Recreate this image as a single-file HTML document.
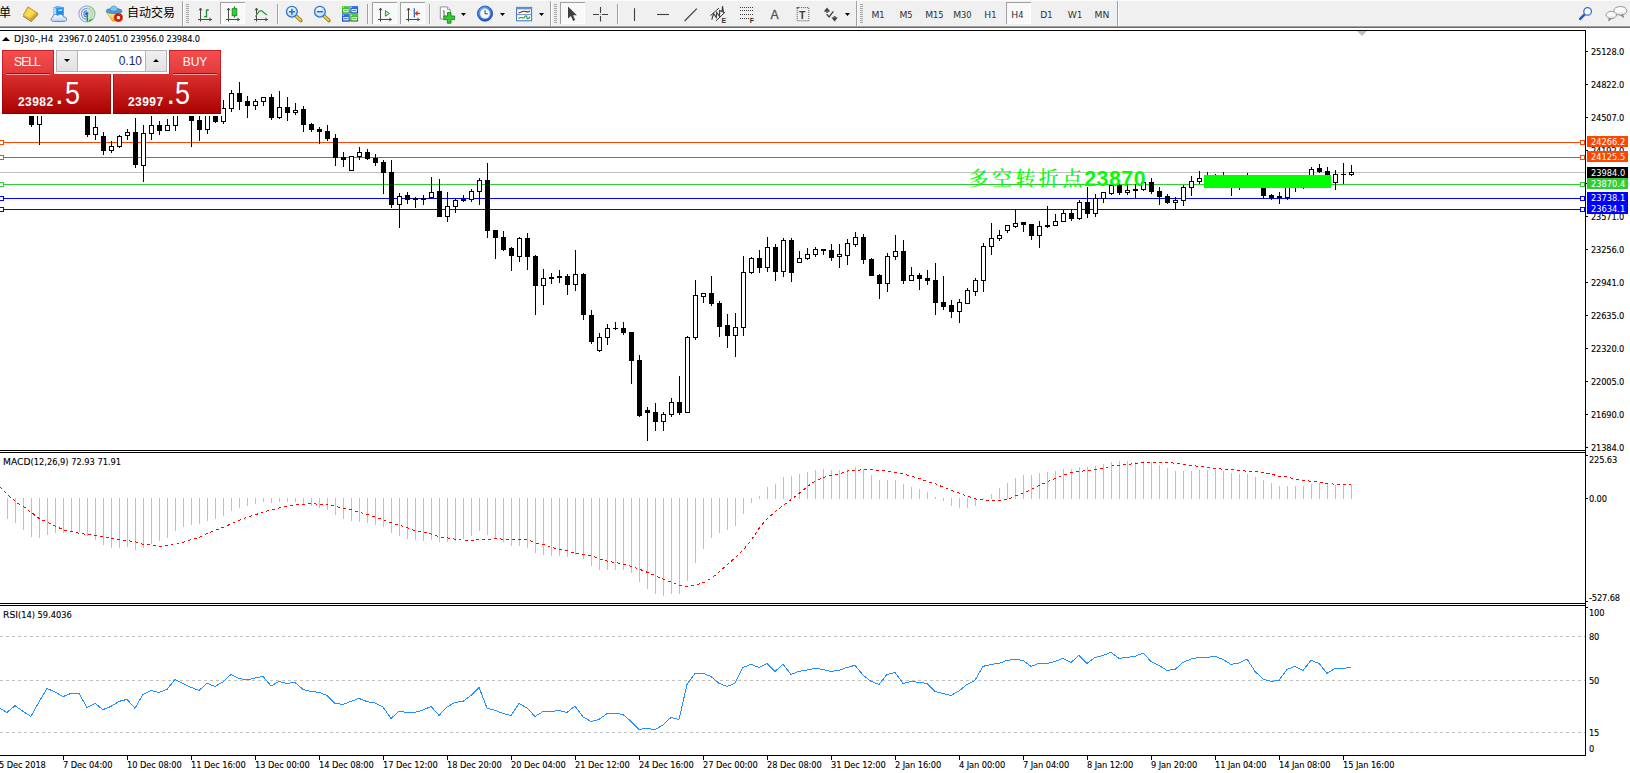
<!DOCTYPE html>
<html lang="zh"><head><meta charset="utf-8"><title>DJ30-,H4</title>
<style>
*{box-sizing:border-box;margin:0;padding:0}
html,body{width:1630px;height:773px;overflow:hidden;background:#fff}
body{font-family:"Liberation Sans","Noto Sans CJK SC",sans-serif}
.root{position:relative;width:1630px;height:773px;overflow:hidden;background:#fff}
.chart{position:absolute;left:0;top:0}
.tb{position:absolute;left:0;top:0;width:1630px;height:28px;background:#f0f0f0;border-bottom:1px solid #fff}
.tb:before{content:"";position:absolute;left:0;right:0;top:26px;height:1px;background:#a0a0a0}
.tb:after{content:"";position:absolute;left:0;right:0;top:27px;height:1px;background:#696969}
.ax{position:absolute;left:1591px;letter-spacing:-.15px;font-size:9.2px;font-family:"DejaVu Sans",sans-serif;font-stretch:condensed;line-height:12px;color:#000;white-space:nowrap}
.tag{position:absolute;left:1587px;width:41px;height:11px;overflow:hidden;font-size:9.2px;font-family:"DejaVu Sans",sans-serif;font-stretch:condensed;line-height:12px;color:#fff;padding-left:4px;white-space:nowrap}
.tm{position:absolute;top:759px;letter-spacing:-.08px;font-size:9.2px;font-family:"DejaVu Sans",sans-serif;font-stretch:condensed;line-height:12px;color:#000;white-space:nowrap}
.ct{position:absolute;font-size:9.2px;font-family:"DejaVu Sans",sans-serif;font-stretch:condensed;line-height:12px;color:#000;white-space:nowrap}
.tri{position:absolute;left:2px;top:37px;width:0;height:0;border-left:4px solid transparent;border-right:4px solid transparent;border-bottom:4px solid #000}
.gt{position:absolute;left:968.6px;top:165px;font-family:"Liberation Serif","Noto Serif CJK SC",serif;font-weight:500;font-size:20px;line-height:28px;color:#00ff00;white-space:nowrap;letter-spacing:3.4px}
.gt span{font-family:"Liberation Sans",sans-serif;font-weight:bold;letter-spacing:.5px;font-size:21.33px;margin-left:-1.4px}
.panel{position:absolute;left:0;top:0;width:230px;height:120px}
.pbg{position:absolute;left:0;top:48px;width:222px;height:68px;background:#fff}
.btn{position:absolute;top:50px;height:24px;width:52px;color:#fff;font-size:12px;line-height:24px;text-align:center;background:linear-gradient(#f55050,#e03a3a);box-shadow:inset 0 1px 0 rgba(170,0,0,.6),inset 1px 0 0 rgba(170,0,0,.5),inset -1px 0 0 rgba(170,0,0,.5)}
.sell{left:2px;letter-spacing:-.9px;padding-right:2px}.buy{left:169px}
.vol{position:absolute;left:56px;top:50px;width:111px;height:22px;border:1px solid #b4b4b4;background:#fff;display:flex}
.vb{width:21px;height:20px;background:linear-gradient(#efefef,#e2e2e2);position:relative}
.vb.l{border-right:1px solid #b4b4b4}.vb.rr{border-left:1px solid #b4b4b4}
.vb i{position:absolute;left:7px;top:8px;width:0;height:0;border-left:3px solid transparent;border-right:3px solid transparent}
.vb i.dn{border-top:3px solid #000}.vb i.up{border-bottom:3px solid #000}
.vi{flex:1;font-size:12px;line-height:20px;text-align:right;padding-right:3px;color:#1b2a5a}
.pb{position:absolute;top:74px;height:40px;width:109px;background:linear-gradient(#dc3030,#a80000);color:#fff;box-shadow:inset 0 -1px 0 rgba(120,0,0,.6),inset 1px 0 0 rgba(150,0,0,.5),inset -1px 0 0 rgba(150,0,0,.5)}
.pl{left:2px}.pr{left:113px;width:108px}.pr .sm{left:15px}.pr .dot{left:53.5px}.pr .bg{left:62px}
.pb span{position:absolute;white-space:nowrap}
.sm{left:16px;top:22px;font-size:12px;line-height:12px;font-weight:bold;letter-spacing:.45px}
.dot{left:53px;top:2px;font-size:31px;line-height:36px}
.bg{left:63px;top:2px;font-size:31px;line-height:36px;transform:scaleX(.87);transform-origin:0 0}
.ul{position:absolute;top:73px;height:2px;width:44px;background:linear-gradient(#a80c0c 50%,#f59a9a 50%)}
.tl{position:absolute;top:5px;font-size:12px;line-height:16px;color:#000;white-space:nowrap;font-family:"Liberation Sans","Noto Sans CJK SC",sans-serif}
.ax,.tm,.ct{-webkit-text-stroke:.1px #000}
.nw{font-stretch:normal}

</style></head><body>
<div class="root">
<div class="tb">
<svg width="1630" height="28" viewBox="0 0 1630 28" style="position:absolute;left:0;top:0">
<defs>
<linearGradient id="gold" x1="0" y1="0" x2="1" y2="1"><stop offset="0" stop-color="#e8b830"/><stop offset=".45" stop-color="#f6d648"/><stop offset="1" stop-color="#b87808"/></linearGradient>
<linearGradient id="srv" x1="0" y1="0" x2="1" y2="1"><stop offset="0" stop-color="#7fc4ff"/><stop offset="1" stop-color="#1d6fd6"/></linearGradient>
<linearGradient id="cld" x1="0" y1="0" x2="0" y2="1"><stop offset="0" stop-color="#ffffff"/><stop offset="1" stop-color="#b9d3f2"/></linearGradient>
<linearGradient id="hat" x1="0" y1="0" x2="0" y2="1"><stop offset="0" stop-color="#8fd0f5"/><stop offset="1" stop-color="#3a8fd0"/></linearGradient>
<linearGradient id="yel" x1="0" y1="0" x2="0" y2="1"><stop offset="0" stop-color="#fff2a0"/><stop offset="1" stop-color="#e8b020"/></linearGradient>
<radialGradient id="lens" cx=".4" cy=".35" r=".7"><stop offset="0" stop-color="#ffffff"/><stop offset="1" stop-color="#a9d4f5"/></radialGradient>
<linearGradient id="grn" x1="0" y1="0" x2="0" y2="1"><stop offset="0" stop-color="#5fd04a"/><stop offset="1" stop-color="#1d8a17"/></linearGradient>
<linearGradient id="blu" x1="0" y1="0" x2="0" y2="1"><stop offset="0" stop-color="#3d7df0"/><stop offset="1" stop-color="#0b3fb8"/></linearGradient>
<radialGradient id="clk" cx=".4" cy=".3" r=".8"><stop offset="0" stop-color="#6fb2ff"/><stop offset="1" stop-color="#0d4fc0"/></radialGradient>
<linearGradient id="bub" x1="0" y1="0" x2="0" y2="1"><stop offset="0" stop-color="#ffffff"/><stop offset=".6" stop-color="#f6f6fa"/><stop offset="1" stop-color="#d8d8e6"/></linearGradient>
<g id="dd"><polygon points="0,0 5,0 2.5,3" fill="#000"/></g>
<g id="axes" fill="none" stroke="#4a4a4a" stroke-width="1"><path d="M2.5,15.6V2.2M0,13.5H13.4"/><path d="M1,4.4L2.5,2L4,4.4M11.2,12L13.6,13.5L11.2,15" stroke-width=".9"/></g>
</defs>
<rect x="0" y="0" width="1630" height="1" fill="#fbfbfb"/>
<g><path d="M27.9,7Q25.6,11 22.8,16.2L31.3,22L38.4,14.6L37.9,13.4Z" fill="#96600a"/><path d="M27.9,6.8Q26,10.6 23.2,15L31.2,20.4L37.9,13.3Z" fill="url(#gold)" stroke="#b07a12" stroke-width=".6"/><path d="M28.6,8.4Q27,11.4 25.2,14.4L30.6,18L35.6,13Z" fill="#ffe860" opacity=".45"/><path d="M23.2,15.2L31.2,20.6L37.9,13.6" fill="none" stroke="#f3d77a" stroke-width=".7"/></g>
<g><path d="M53.4,7.4L57.2,6.2L63.8,7.2V15.4H53.4Z" fill="#1e8cf0"/><path d="M53.4,7.4L56.2,8.6V15.4H53.4Z" fill="#a6dcff"/><path d="M53.4,7.4L57.2,6.2L63.8,7.2L56.2,8.6Z" fill="#5cb8ff"/><rect x="58.4" y="9.6" width="3.8" height="1.2" fill="#e8f6ff" transform="rotate(-8 60 10)"/><path d="M53.6,21.4C50.6,21.4 50.2,18 52.8,17.2C52.6,14.6 56.4,13.6 57.8,15.6C59.2,13.4 63.2,14 63.4,16.8C67,16.4 67.8,21.4 64.4,21.4Z" fill="url(#cld)" stroke="#5878b8" stroke-width=".9"/></g>
<g fill="none"><path d="M86.9,13.9L86.9,5.9A8,8 0 0 1 86.9,21.9Z" fill="#cfe6cf" opacity=".8"/><path d="M86.9,5.9A8,8 0 0 0 86.9,21.9" stroke="#8fb0e8" stroke-width="1.1"/><path d="M86.9,8.4A5.5,5.5 0 0 0 86.9,19.4" stroke="#6f98e0" stroke-width="1.1"/><path d="M86.9,10.9A3,3 0 0 0 86.9,16.9" stroke="#4f80d8" stroke-width="1.1"/><path d="M86.9,5.9A8,8 0 0 1 86.9,21.9" stroke="#8fbf9a" stroke-width="1.2"/><path d="M86.9,8.4A5.5,5.5 0 0 1 86.9,19.4" stroke="#a8d0a8" stroke-width="1.1"/><path d="M86.9,10.9A3,3 0 0 1 86.9,16.9" stroke="#b8d8b8" stroke-width="1"/><circle cx="86.7" cy="13.7" r="1.7" fill="#2a5fd0"/><path d="M87.3,14.2V21.6" stroke="#18a018" stroke-width="1.4"/><path d="M87.4,21.6Q91,21.4 93.4,18.4L90,19.6Z" fill="#3aa83a"/></g>
<g><path d="M106.4,12.4L112.6,21Q113.6,22 114.8,21L121.8,12.4Z" fill="url(#yel)" stroke="#c8960c" stroke-width=".6"/><ellipse cx="114.1" cy="11" rx="8" ry="2.7" fill="#4a9cd6" stroke="#2a78b8" stroke-width=".6"/><path d="M110,10.6Q110,6 113.8,6Q117.4,6 117.6,10.6Q113.8,11.8 110,10.6Z" fill="#7cc4ee" stroke="#2a78b8" stroke-width=".5"/><circle cx="118.4" cy="17.6" r="4.1" fill="#e01808"/><circle cx="118.4" cy="17.6" r="4.1" fill="none" stroke="#b01000" stroke-width=".5"/><rect x="116.9" y="16.1" width="3" height="3" fill="#fff"/></g>
<rect x="182" y="1" width="1" height="25" fill="#a0a0a0"/><rect x="183" y="1" width="1" height="25" fill="#fff"/>
<g fill="#a6a6a6"><rect x="186" y="4" width="3" height="1"/><rect x="186" y="6" width="3" height="1"/><rect x="186" y="8" width="3" height="1"/><rect x="186" y="10" width="3" height="1"/><rect x="186" y="12" width="3" height="1"/><rect x="186" y="14" width="3" height="1"/><rect x="186" y="16" width="3" height="1"/><rect x="186" y="18" width="3" height="1"/><rect x="186" y="20" width="3" height="1"/><rect x="186" y="22" width="3" height="1"/></g>
<use href="#axes" x="198" y="6"/>
<path d="M206.5,9.5V17.5M206.5,10H208.8M204.2,16.6H206.5" stroke="#1f8f2f" stroke-width="1.3" fill="none"/>
<rect x="220" y="2" width="25" height="22" fill="#f9f9f9"/><rect x="220" y="2" width="25" height="1" fill="#a0a0a0"/><rect x="220" y="2" width="1" height="22" fill="#a0a0a0"/><rect x="244" y="3" width="1" height="21" fill="#fff"/><rect x="221" y="23" width="24" height="1" fill="#fff"/>
<use href="#axes" x="226" y="6"/>
<path d="M234.5,6.4V17.6" stroke="#1f7a1f" stroke-width="1.2"/><rect x="232.2" y="8.7" width="4.6" height="7" fill="#2fd23a" stroke="#1a8a1a" stroke-width=".9"/>
<use href="#axes" x="254" y="6"/>
<path d="M255.5,16.8Q259.5,9 262,11Q264.5,13.5 267,15" stroke="#2f9a3f" stroke-width="1.2" fill="none"/>
<rect x="277" y="4" width="1" height="20" fill="#a0a0a0"/><rect x="278" y="4" width="1" height="20" fill="#fafafa"/>
<g><path d="M296.09999999999997,16L300.9,20.6" stroke="#8a6a10" stroke-width="3.4" stroke-linecap="round"/><path d="M296.09999999999997,16L300.7,20.4" stroke="#f0cf4a" stroke-width="2" stroke-linecap="round"/><circle cx="291.9" cy="11.7" r="5.4" fill="url(#lens)" stroke="#2a78c8" stroke-width="1.3"/>
<path d="M288.9,11.7H294.9M291.9,8.7V14.7" stroke="#2a6fc0" stroke-width="1.6"/>
</g>
<g><path d="M324.09999999999997,16L328.9,20.6" stroke="#8a6a10" stroke-width="3.4" stroke-linecap="round"/><path d="M324.09999999999997,16L328.7,20.4" stroke="#f0cf4a" stroke-width="2" stroke-linecap="round"/><circle cx="319.9" cy="11.7" r="5.4" fill="url(#lens)" stroke="#2a78c8" stroke-width="1.3"/>
<path d="M316.9,11.7H322.9" stroke="#2a6fc0" stroke-width="1.6"/>
</g>
<rect x="342" y="6" width="7.8" height="7.6" fill="url(#grn)"/><rect x="343.2" y="9" width="5.4" height="3.4" fill="#fff" opacity=".85"/><rect x="344" y="10.2" width="3.8" height=".8" fill="url(#grn)"/><rect x="342.8" y="6.8" width="1" height="1" fill="#fff" opacity=".8"/>
<rect x="350.3" y="6" width="7.8" height="7.6" fill="url(#blu)"/><rect x="351.5" y="9" width="5.4" height="3.4" fill="#fff" opacity=".85"/><rect x="352.3" y="10.2" width="3.8" height=".8" fill="url(#blu)"/><rect x="351.1" y="6.8" width="1" height="1" fill="#fff" opacity=".8"/>
<rect x="342" y="14" width="7.8" height="7.6" fill="url(#blu)"/><rect x="343.2" y="17" width="5.4" height="3.4" fill="#fff" opacity=".85"/><rect x="344" y="18.2" width="3.8" height=".8" fill="url(#blu)"/><rect x="342.8" y="14.8" width="1" height="1" fill="#fff" opacity=".8"/>
<rect x="350.3" y="14" width="7.8" height="7.6" fill="url(#grn)"/><rect x="351.5" y="17" width="5.4" height="3.4" fill="#fff" opacity=".85"/><rect x="352.3" y="18.2" width="3.8" height=".8" fill="url(#grn)"/><rect x="351.1" y="14.8" width="1" height="1" fill="#fff" opacity=".8"/>
<rect x="367" y="4" width="1" height="20" fill="#a0a0a0"/><rect x="368" y="4" width="1" height="20" fill="#fafafa"/>
<rect x="372" y="2" width="25" height="22" fill="#f9f9f9"/><rect x="372" y="2" width="25" height="1" fill="#a0a0a0"/><rect x="372" y="2" width="1" height="22" fill="#a0a0a0"/><rect x="396" y="3" width="1" height="21" fill="#fff"/><rect x="373" y="23" width="24" height="1" fill="#fff"/>
<use href="#axes" x="378" y="6"/>
<polygon points="385.4,10.6 389.4,13.4 385.4,16.2" fill="#c8f0c0" stroke="#1f9a2f" stroke-width="1"/>
<rect x="400" y="2" width="25" height="22" fill="#f9f9f9"/><rect x="400" y="2" width="25" height="1" fill="#a0a0a0"/><rect x="400" y="2" width="1" height="22" fill="#a0a0a0"/><rect x="424" y="3" width="1" height="21" fill="#fff"/><rect x="401" y="23" width="24" height="1" fill="#fff"/>
<use href="#axes" x="406" y="6"/>
<path d="M414.3,8.2V17.6" stroke="#1f5fb0" stroke-width="1.2"/><path d="M415.6,13.4H420M417.6,11.4L415.6,13.4L417.6,15.4" stroke="#d03010" stroke-width="1.2" fill="none"/>
<rect x="429" y="4" width="1" height="20" fill="#a0a0a0"/><rect x="430" y="4" width="1" height="20" fill="#fafafa"/>
<g><path d="M440.3,6.9H447.4L450.2,9.7V19H440.3Z" fill="#fbfbfb" stroke="#8a8a8a" stroke-width=".9"/><path d="M447.4,6.9V9.7H450.2" fill="#e4e4e4" stroke="#8a8a8a" stroke-width=".7"/><path d="M444,10.5V16.5M443,11H444M444,16H445.2" stroke="#555" stroke-width=".9" fill="none"/><path d="M447.4,12.6H451V16H454.6V19.6H451V23.2H447.4V19.6H443.8V16H447.4Z" fill="#38c838" stroke="#178a17" stroke-width=".9"/></g>
<use href="#dd" x="461" y="13"/>
<g><circle cx="485" cy="13.6" r="7.6" fill="url(#clk)" stroke="#0a3c9c" stroke-width=".7"/><circle cx="485" cy="13.6" r="5" fill="#f6f8fc" stroke="#9fb8e0" stroke-width=".6"/><path d="M485,10.2V13.8H487.8" stroke="#404040" stroke-width="1" fill="none"/></g>
<use href="#dd" x="500" y="13"/>
<g><rect x="516.6" y="7.4" width="15" height="13.4" fill="#fdfdfd" stroke="#3a76c8" stroke-width="1"/><rect x="516.6" y="7.4" width="15" height="2" fill="#5a96e0"/><path d="M516.6,14.6H531.6" stroke="#3a76c8" stroke-width=".8"/><path d="M518.4,13Q521,12.4 522.4,11.6T526.4,11.6T530,10.8" stroke="#a02010" stroke-width="1.1" fill="none"/><path d="M518.4,18.6Q520.4,17 522,17.8T525,16.6T527,17.6T530,16.6" stroke="#1f9a2f" stroke-width="1.1" fill="none"/></g>
<use href="#dd" x="539" y="13"/>
<rect x="550" y="1" width="1" height="25" fill="#a0a0a0"/><rect x="551" y="1" width="1" height="25" fill="#fff"/>
<g fill="#a6a6a6"><rect x="554" y="4" width="3" height="1"/><rect x="554" y="6" width="3" height="1"/><rect x="554" y="8" width="3" height="1"/><rect x="554" y="10" width="3" height="1"/><rect x="554" y="12" width="3" height="1"/><rect x="554" y="14" width="3" height="1"/><rect x="554" y="16" width="3" height="1"/><rect x="554" y="18" width="3" height="1"/><rect x="554" y="20" width="3" height="1"/><rect x="554" y="22" width="3" height="1"/></g>
<rect x="560" y="2" width="25" height="22" fill="#f9f9f9"/><rect x="560" y="2" width="25" height="1" fill="#a0a0a0"/><rect x="560" y="2" width="1" height="22" fill="#a0a0a0"/><rect x="584" y="3" width="1" height="21" fill="#fff"/><rect x="561" y="23" width="24" height="1" fill="#fff"/>
<path d="M568,6.4V18.6L570.9,16L573.2,21L575.2,20L573,15.2H576.9Z" fill="#404040"/>
<path d="M593,14.5H599M602,14.5H608M600.5,7V13M600.5,16V21.6" stroke="#404040" stroke-width="1.1"/><rect x="600" y="14" width="1" height="1" fill="#808080"/>
<rect x="617" y="4" width="1" height="20" fill="#a0a0a0"/><rect x="618" y="4" width="1" height="20" fill="#fafafa"/>
<path d="M634.5,8.2V21" stroke="#404040" stroke-width="1.1"/>
<path d="M657,14.5H669" stroke="#404040" stroke-width="1.1"/>
<path d="M684.6,21L696.8,8.7" stroke="#404040" stroke-width="1.2"/>
<g stroke="#3c3c3c" stroke-width="1" fill="none"><path d="M710.4,15.7L719,8M715.9,21L725.2,12"/><path d="M711.8,19.6L713.5,13.6L716.3,17.5L716.6,12.4L719.6,16.3L719.6,10.5L722.1,11.6L722.5,6.2L723.6,12.8" stroke-width="1.1"/></g>
<text x="721.6" y="22.9" font-family="Liberation Sans,sans-serif" font-size="7" font-weight="bold" fill="#303030">E</text>
<g fill="#3c3c3c" shape-rendering="crispEdges"><rect x="740" y="7" width="1" height="1"/><rect x="742" y="7" width="1" height="1"/><rect x="744" y="7" width="1" height="1"/><rect x="746" y="7" width="1" height="1"/><rect x="748" y="7" width="1" height="1"/><rect x="750" y="7" width="1" height="1"/><rect x="752" y="7" width="1" height="1"/></g>
<g fill="#3c3c3c" shape-rendering="crispEdges"><rect x="740" y="10" width="1" height="1"/><rect x="742" y="10" width="1" height="1"/><rect x="744" y="10" width="1" height="1"/><rect x="746" y="10" width="1" height="1"/><rect x="748" y="10" width="1" height="1"/><rect x="750" y="10" width="1" height="1"/><rect x="752" y="10" width="1" height="1"/></g>
<g fill="#3c3c3c" shape-rendering="crispEdges"><rect x="740" y="14" width="1" height="1"/><rect x="742" y="14" width="1" height="1"/><rect x="744" y="14" width="1" height="1"/><rect x="746" y="14" width="1" height="1"/><rect x="748" y="14" width="1" height="1"/><rect x="750" y="14" width="1" height="1"/><rect x="752" y="14" width="1" height="1"/></g>
<g fill="#3c3c3c" shape-rendering="crispEdges"><rect x="740" y="18" width="1" height="1"/><rect x="742" y="18" width="1" height="1"/><rect x="744" y="18" width="1" height="1"/><rect x="746" y="18" width="1" height="1"/><rect x="748" y="18" width="1" height="1"/></g>
<text x="749.8" y="22.9" font-family="Liberation Sans,sans-serif" font-size="7" font-weight="bold" fill="#303030">F</text>
<text x="770.4" y="18.7" font-family="Liberation Sans,sans-serif" font-size="12.2" fill="#505050" stroke="#505050" stroke-width=".3">A</text>
<rect x="797.2" y="7.6" width="11.6" height="13.2" fill="none" stroke="#505050" stroke-width="1" stroke-dasharray="1 1"/><rect x="796.6" y="7" width="2" height="1.4" fill="#404040"/>
<text x="798.9" y="18.7" font-family="Liberation Sans,sans-serif" font-size="10.6" font-weight="bold" fill="#404040">T</text>
<g fill="#404040"><polygon points="827,7.6 830.2,11.6 823.8,11.6"/><polygon points="824.6,11.4 829.4,11.4 827,13"/><polygon points="834.6,21.4 837.8,17.4 831.4,17.4"/><polygon points="832.2,17.6 837,17.6 834.6,16"/><path d="M826.6,14.2L829,17L833.4,11.4" stroke="#404040" stroke-width="1.3" fill="none"/></g>
<use href="#dd" x="845" y="13"/>
<rect x="856" y="1" width="1" height="25" fill="#a0a0a0"/><rect x="857" y="1" width="1" height="25" fill="#fff"/>
<g fill="#a6a6a6"><rect x="860" y="4" width="3" height="1"/><rect x="860" y="6" width="3" height="1"/><rect x="860" y="8" width="3" height="1"/><rect x="860" y="10" width="3" height="1"/><rect x="860" y="12" width="3" height="1"/><rect x="860" y="14" width="3" height="1"/><rect x="860" y="16" width="3" height="1"/><rect x="860" y="18" width="3" height="1"/><rect x="860" y="20" width="3" height="1"/><rect x="860" y="22" width="3" height="1"/></g>
<rect x="1006" y="2" width="25" height="22" fill="#f9f9f9"/><rect x="1006" y="2" width="25" height="1" fill="#a0a0a0"/><rect x="1006" y="2" width="1" height="22" fill="#a0a0a0"/><rect x="1030" y="3" width="1" height="21" fill="#fff"/><rect x="1007" y="23" width="24" height="1" fill="#fff"/>
<text x="878" y="18" text-anchor="middle" font-family="DejaVu Sans,sans-serif" font-size="9.2" fill="#303030">M<tspan font-stretch="condensed">1</tspan></text>
<text x="906" y="18" text-anchor="middle" font-family="DejaVu Sans,sans-serif" font-size="9.2" fill="#303030">M<tspan font-stretch="condensed">5</tspan></text>
<text x="934.4" y="18" text-anchor="middle" font-family="DejaVu Sans,sans-serif" font-size="9.2" fill="#303030">M<tspan font-stretch="condensed">1</tspan><tspan font-stretch="condensed">5</tspan></text>
<text x="962.4" y="18" text-anchor="middle" font-family="DejaVu Sans,sans-serif" font-size="9.2" fill="#303030">M<tspan font-stretch="condensed">3</tspan><tspan font-stretch="condensed">0</tspan></text>
<text x="990.4" y="18" text-anchor="middle" font-family="DejaVu Sans,sans-serif" font-size="9.2" fill="#303030">H<tspan font-stretch="condensed">1</tspan></text>
<text x="1017.4" y="18" text-anchor="middle" font-family="DejaVu Sans,sans-serif" font-size="9.2" fill="#303030">H<tspan font-stretch="condensed">4</tspan></text>
<text x="1046.4" y="18" text-anchor="middle" font-family="DejaVu Sans,sans-serif" font-size="9.2" fill="#303030">D<tspan font-stretch="condensed">1</tspan></text>
<text x="1075" y="18" text-anchor="middle" font-family="DejaVu Sans,sans-serif" font-size="9.2" fill="#303030">W<tspan font-stretch="condensed">1</tspan></text>
<text x="1102" y="18" text-anchor="middle" font-family="DejaVu Sans,sans-serif" font-size="9.2" fill="#303030">MN</text>
<rect x="1117" y="1" width="1" height="25" fill="#a0a0a0"/><rect x="1118" y="1" width="1" height="25" fill="#fff"/>
<g><path d="M1584.4,14.6L1580.2,18.8" stroke="#1e5bd0" stroke-width="2.6" stroke-linecap="round"/><circle cx="1587.6" cy="11.4" r="3.8" fill="#fff" stroke="#2a68dc" stroke-width="1.25"/></g>
<g stroke="#8a8a8a" stroke-width=".9"><path d="M1622.6,14.6L1623.6,17.6L1620.4,14.9Z" fill="#666"/><ellipse cx="1620.3" cy="10.8" rx="6.6" ry="4.3" fill="url(#bub)"/><path d="M1609.4,18L1608.6,20.8L1611.6,18.4Z" fill="#666"/><ellipse cx="1611.2" cy="15" rx="5.2" ry="3.6" fill="url(#bub)"/></g>
</svg>
<div class="tl" style="left:-1px">单</div>
<div class="tl" style="left:127px">自动交易</div>
</div>
<svg class="chart" width="1630" height="773" viewBox="0 0 1630 773" shape-rendering="crispEdges"><rect x="0" y="28" width="1630" height="745" fill="#fff"/><rect x="0" y="30" width="1586" height="1" fill="#000"/><rect x="0" y="172" width="1585" height="1" fill="#c0c0c0"/><rect x="0" y="142" width="1585" height="1" fill="#ff4500"/><rect x="0" y="157" width="1585" height="1" fill="#ff4500"/><rect x="0" y="184" width="1585" height="1" fill="#32cd32"/><rect x="0" y="198" width="1585" height="1" fill="#0000ff"/><rect x="0" y="209" width="1585" height="1" fill="#0000ff"/><g fill="#000"><rect x="31" y="100" width="1" height="27"/><rect x="29" y="100" width="5" height="25"/><rect x="39" y="100" width="1" height="45"/><rect x="37" y="100" width="5" height="25"/><rect x="38" y="101" width="3" height="23" fill="#fff"/><rect x="87" y="100" width="1" height="37"/><rect x="85" y="100" width="5" height="35"/><rect x="95" y="116" width="1" height="24"/><rect x="93" y="127" width="5" height="8"/><rect x="94" y="128" width="3" height="6" fill="#fff"/><rect x="103" y="132" width="1" height="23"/><rect x="101" y="136" width="5" height="15"/><rect x="111" y="141" width="1" height="12"/><rect x="109" y="146" width="5" height="5"/><rect x="110" y="147" width="3" height="3" fill="#fff"/><rect x="119" y="135" width="1" height="13"/><rect x="117" y="136" width="5" height="11"/><rect x="118" y="137" width="3" height="9" fill="#fff"/><rect x="127" y="129" width="1" height="11"/><rect x="125" y="132" width="5" height="4"/><rect x="126" y="133" width="3" height="2" fill="#fff"/><rect x="135" y="118" width="1" height="50"/><rect x="133" y="132" width="5" height="33"/><rect x="143" y="125" width="1" height="57"/><rect x="141" y="133" width="5" height="33"/><rect x="142" y="134" width="3" height="31" fill="#fff"/><rect x="151" y="116" width="1" height="24"/><rect x="149" y="125" width="5" height="9"/><rect x="150" y="126" width="3" height="7" fill="#fff"/><rect x="159" y="121" width="1" height="14"/><rect x="157" y="125" width="5" height="6"/><rect x="167" y="119" width="1" height="12"/><rect x="165" y="125" width="5" height="6"/><rect x="166" y="126" width="3" height="4" fill="#fff"/><rect x="175" y="100" width="1" height="31"/><rect x="173" y="100" width="5" height="26"/><rect x="174" y="101" width="3" height="24" fill="#fff"/><rect x="191" y="100" width="1" height="47"/><rect x="189" y="100" width="5" height="21"/><rect x="199" y="116" width="1" height="25"/><rect x="197" y="120" width="5" height="10"/><rect x="207" y="100" width="1" height="34"/><rect x="205" y="100" width="5" height="30"/><rect x="206" y="101" width="3" height="28" fill="#fff"/><rect x="215" y="100" width="1" height="23"/><rect x="213" y="100" width="5" height="22"/><rect x="223" y="100" width="1" height="24"/><rect x="221" y="108" width="5" height="14"/><rect x="222" y="109" width="3" height="12" fill="#fff"/><rect x="231" y="90" width="1" height="22"/><rect x="229" y="93" width="5" height="16"/><rect x="230" y="94" width="3" height="14" fill="#fff"/><rect x="239" y="82" width="1" height="28"/><rect x="237" y="93" width="5" height="9"/><rect x="247" y="96" width="1" height="22"/><rect x="245" y="101" width="5" height="5"/><rect x="255" y="99" width="1" height="11"/><rect x="253" y="101" width="5" height="5"/><rect x="254" y="102" width="3" height="3" fill="#fff"/><rect x="263" y="97" width="1" height="9"/><rect x="261" y="97" width="5" height="5"/><rect x="262" y="98" width="3" height="3" fill="#fff"/><rect x="271" y="94" width="1" height="26"/><rect x="269" y="97" width="5" height="21"/><rect x="279" y="91" width="1" height="28"/><rect x="277" y="107" width="5" height="11"/><rect x="278" y="108" width="3" height="9" fill="#fff"/><rect x="287" y="97" width="1" height="24"/><rect x="285" y="107" width="5" height="6"/><rect x="295" y="103" width="1" height="12"/><rect x="293" y="110" width="5" height="3"/><rect x="294" y="111" width="3" height="1" fill="#fff"/><rect x="303" y="106" width="1" height="26"/><rect x="301" y="109" width="5" height="16"/><rect x="311" y="123" width="1" height="9"/><rect x="309" y="124" width="5" height="6"/><rect x="319" y="127" width="1" height="17"/><rect x="317" y="129" width="5" height="3"/><rect x="327" y="125" width="1" height="16"/><rect x="325" y="131" width="5" height="8"/><rect x="335" y="134" width="1" height="32"/><rect x="333" y="138" width="5" height="20"/><rect x="343" y="152" width="1" height="15"/><rect x="341" y="157" width="5" height="3"/><rect x="351" y="156" width="1" height="15"/><rect x="349" y="156" width="5" height="15"/><rect x="350" y="157" width="3" height="13" fill="#fff"/><rect x="359" y="147" width="1" height="13"/><rect x="357" y="152" width="5" height="5"/><rect x="358" y="153" width="3" height="3" fill="#fff"/><rect x="367" y="149" width="1" height="11"/><rect x="365" y="152" width="5" height="7"/><rect x="375" y="154" width="1" height="12"/><rect x="373" y="158" width="5" height="5"/><rect x="383" y="160" width="1" height="34"/><rect x="381" y="162" width="5" height="11"/><rect x="391" y="160" width="1" height="48"/><rect x="389" y="172" width="5" height="33"/><rect x="399" y="193" width="1" height="35"/><rect x="397" y="196" width="5" height="9"/><rect x="398" y="197" width="3" height="7" fill="#fff"/><rect x="407" y="192" width="1" height="12"/><rect x="405" y="195" width="5" height="5"/><rect x="415" y="197" width="1" height="11"/><rect x="413" y="198" width="5" height="2"/><rect x="423" y="195" width="1" height="10"/><rect x="421" y="198" width="5" height="2"/><rect x="431" y="177" width="1" height="22"/><rect x="429" y="192" width="5" height="6"/><rect x="430" y="193" width="3" height="4" fill="#fff"/><rect x="439" y="179" width="1" height="38"/><rect x="437" y="191" width="5" height="26"/><rect x="447" y="192" width="1" height="30"/><rect x="445" y="206" width="5" height="11"/><rect x="446" y="207" width="3" height="9" fill="#fff"/><rect x="455" y="198" width="1" height="15"/><rect x="453" y="200" width="5" height="7"/><rect x="454" y="201" width="3" height="5" fill="#fff"/><rect x="463" y="195" width="1" height="7"/><rect x="461" y="199" width="5" height="2"/><rect x="471" y="189" width="1" height="13"/><rect x="469" y="191" width="5" height="9"/><rect x="470" y="192" width="3" height="7" fill="#fff"/><rect x="479" y="178" width="1" height="27"/><rect x="477" y="180" width="5" height="12"/><rect x="478" y="181" width="3" height="10" fill="#fff"/><rect x="487" y="163" width="1" height="75"/><rect x="485" y="180" width="5" height="51"/><rect x="495" y="230" width="1" height="29"/><rect x="493" y="230" width="5" height="8"/><rect x="503" y="231" width="1" height="20"/><rect x="501" y="237" width="5" height="13"/><rect x="511" y="247" width="1" height="24"/><rect x="509" y="248" width="5" height="8"/><rect x="519" y="237" width="1" height="25"/><rect x="517" y="238" width="5" height="19"/><rect x="518" y="239" width="3" height="17" fill="#fff"/><rect x="527" y="233" width="1" height="37"/><rect x="525" y="238" width="5" height="19"/><rect x="535" y="255" width="1" height="60"/><rect x="533" y="256" width="5" height="30"/><rect x="543" y="269" width="1" height="36"/><rect x="541" y="278" width="5" height="8"/><rect x="542" y="279" width="3" height="6" fill="#fff"/><rect x="551" y="273" width="1" height="11"/><rect x="549" y="277" width="5" height="2"/><rect x="559" y="270" width="1" height="13"/><rect x="557" y="276" width="5" height="2"/><rect x="567" y="274" width="1" height="21"/><rect x="565" y="276" width="5" height="9"/><rect x="575" y="250" width="1" height="41"/><rect x="573" y="274" width="5" height="11"/><rect x="574" y="275" width="3" height="9" fill="#fff"/><rect x="583" y="273" width="1" height="47"/><rect x="581" y="274" width="5" height="41"/><rect x="591" y="310" width="1" height="34"/><rect x="589" y="315" width="5" height="27"/><rect x="599" y="333" width="1" height="19"/><rect x="597" y="337" width="5" height="14"/><rect x="598" y="338" width="3" height="12" fill="#fff"/><rect x="607" y="324" width="1" height="21"/><rect x="605" y="328" width="5" height="10"/><rect x="606" y="329" width="3" height="8" fill="#fff"/><rect x="615" y="322" width="1" height="8"/><rect x="613" y="328" width="5" height="1"/><rect x="623" y="322" width="1" height="13"/><rect x="621" y="328" width="5" height="5"/><rect x="631" y="332" width="1" height="52"/><rect x="629" y="332" width="5" height="29"/><rect x="639" y="355" width="1" height="62"/><rect x="637" y="360" width="5" height="56"/><rect x="647" y="407" width="1" height="34"/><rect x="645" y="410" width="5" height="3"/><rect x="655" y="403" width="1" height="28"/><rect x="653" y="412" width="5" height="10"/><rect x="663" y="412" width="1" height="19"/><rect x="661" y="414" width="5" height="8"/><rect x="662" y="415" width="3" height="6" fill="#fff"/><rect x="671" y="398" width="1" height="19"/><rect x="669" y="402" width="5" height="13"/><rect x="670" y="403" width="3" height="11" fill="#fff"/><rect x="679" y="376" width="1" height="39"/><rect x="677" y="402" width="5" height="11"/><rect x="687" y="336" width="1" height="77"/><rect x="685" y="337" width="5" height="76"/><rect x="686" y="338" width="3" height="74" fill="#fff"/><rect x="695" y="280" width="1" height="60"/><rect x="693" y="295" width="5" height="43"/><rect x="694" y="296" width="3" height="41" fill="#fff"/><rect x="703" y="293" width="1" height="10"/><rect x="701" y="293" width="5" height="4"/><rect x="702" y="294" width="3" height="2" fill="#fff"/><rect x="711" y="276" width="1" height="30"/><rect x="709" y="293" width="5" height="11"/><rect x="719" y="301" width="1" height="36"/><rect x="717" y="303" width="5" height="24"/><rect x="727" y="314" width="1" height="34"/><rect x="725" y="325" width="5" height="11"/><rect x="735" y="313" width="1" height="44"/><rect x="733" y="327" width="5" height="9"/><rect x="734" y="328" width="3" height="7" fill="#fff"/><rect x="743" y="256" width="1" height="80"/><rect x="741" y="272" width="5" height="56"/><rect x="742" y="273" width="3" height="54" fill="#fff"/><rect x="751" y="257" width="1" height="17"/><rect x="749" y="258" width="5" height="15"/><rect x="750" y="259" width="3" height="13" fill="#fff"/><rect x="759" y="250" width="1" height="23"/><rect x="757" y="258" width="5" height="10"/><rect x="767" y="237" width="1" height="35"/><rect x="765" y="247" width="5" height="21"/><rect x="766" y="248" width="3" height="19" fill="#fff"/><rect x="775" y="244" width="1" height="37"/><rect x="773" y="247" width="5" height="25"/><rect x="783" y="238" width="1" height="39"/><rect x="781" y="240" width="5" height="32"/><rect x="782" y="241" width="3" height="30" fill="#fff"/><rect x="791" y="238" width="1" height="44"/><rect x="789" y="240" width="5" height="33"/><rect x="799" y="251" width="1" height="12"/><rect x="797" y="258" width="5" height="5"/><rect x="798" y="259" width="3" height="3" fill="#fff"/><rect x="807" y="248" width="1" height="12"/><rect x="805" y="254" width="5" height="5"/><rect x="806" y="255" width="3" height="3" fill="#fff"/><rect x="815" y="247" width="1" height="10"/><rect x="813" y="249" width="5" height="6"/><rect x="814" y="250" width="3" height="4" fill="#fff"/><rect x="823" y="249" width="1" height="6"/><rect x="821" y="249" width="5" height="2"/><rect x="831" y="244" width="1" height="17"/><rect x="829" y="250" width="5" height="8"/><rect x="839" y="244" width="1" height="24"/><rect x="837" y="254" width="5" height="3"/><rect x="838" y="255" width="3" height="1" fill="#fff"/><rect x="847" y="239" width="1" height="26"/><rect x="845" y="243" width="5" height="13"/><rect x="846" y="244" width="3" height="11" fill="#fff"/><rect x="855" y="232" width="1" height="15"/><rect x="853" y="237" width="5" height="8"/><rect x="854" y="238" width="3" height="6" fill="#fff"/><rect x="863" y="234" width="1" height="30"/><rect x="861" y="237" width="5" height="23"/><rect x="871" y="258" width="1" height="18"/><rect x="869" y="259" width="5" height="17"/><rect x="879" y="274" width="1" height="25"/><rect x="877" y="275" width="5" height="9"/><rect x="887" y="253" width="1" height="39"/><rect x="885" y="256" width="5" height="28"/><rect x="886" y="257" width="3" height="26" fill="#fff"/><rect x="895" y="235" width="1" height="25"/><rect x="893" y="251" width="5" height="6"/><rect x="894" y="252" width="3" height="4" fill="#fff"/><rect x="903" y="240" width="1" height="44"/><rect x="901" y="251" width="5" height="30"/><rect x="911" y="267" width="1" height="14"/><rect x="909" y="275" width="5" height="6"/><rect x="910" y="276" width="3" height="4" fill="#fff"/><rect x="919" y="273" width="1" height="17"/><rect x="917" y="275" width="5" height="4"/><rect x="927" y="270" width="1" height="15"/><rect x="925" y="278" width="5" height="3"/><rect x="935" y="263" width="1" height="52"/><rect x="933" y="280" width="5" height="23"/><rect x="943" y="276" width="1" height="34"/><rect x="941" y="302" width="5" height="5"/><rect x="951" y="300" width="1" height="18"/><rect x="949" y="305" width="5" height="7"/><rect x="959" y="299" width="1" height="24"/><rect x="957" y="302" width="5" height="10"/><rect x="958" y="303" width="3" height="8" fill="#fff"/><rect x="967" y="288" width="1" height="16"/><rect x="965" y="290" width="5" height="14"/><rect x="966" y="291" width="3" height="12" fill="#fff"/><rect x="975" y="278" width="1" height="18"/><rect x="973" y="280" width="5" height="12"/><rect x="974" y="281" width="3" height="10" fill="#fff"/><rect x="983" y="243" width="1" height="49"/><rect x="981" y="246" width="5" height="35"/><rect x="982" y="247" width="3" height="33" fill="#fff"/><rect x="991" y="223" width="1" height="32"/><rect x="989" y="238" width="5" height="9"/><rect x="990" y="239" width="3" height="7" fill="#fff"/><rect x="999" y="230" width="1" height="11"/><rect x="997" y="235" width="5" height="4"/><rect x="998" y="236" width="3" height="2" fill="#fff"/><rect x="1007" y="225" width="1" height="8"/><rect x="1005" y="225" width="5" height="6"/><rect x="1006" y="226" width="3" height="4" fill="#fff"/><rect x="1015" y="210" width="1" height="18"/><rect x="1013" y="223" width="5" height="4"/><rect x="1014" y="224" width="3" height="2" fill="#fff"/><rect x="1023" y="222" width="1" height="10"/><rect x="1021" y="222" width="5" height="3"/><rect x="1031" y="224" width="1" height="16"/><rect x="1029" y="224" width="5" height="12"/><rect x="1039" y="221" width="1" height="27"/><rect x="1037" y="226" width="5" height="10"/><rect x="1038" y="227" width="3" height="8" fill="#fff"/><rect x="1047" y="206" width="1" height="22"/><rect x="1045" y="225" width="5" height="2"/><rect x="1055" y="214" width="1" height="12"/><rect x="1053" y="221" width="5" height="5"/><rect x="1054" y="222" width="3" height="3" fill="#fff"/><rect x="1063" y="210" width="1" height="12"/><rect x="1061" y="213" width="5" height="9"/><rect x="1062" y="214" width="3" height="7" fill="#fff"/><rect x="1071" y="209" width="1" height="12"/><rect x="1069" y="213" width="5" height="6"/><rect x="1079" y="200" width="1" height="20"/><rect x="1077" y="202" width="5" height="17"/><rect x="1078" y="203" width="3" height="15" fill="#fff"/><rect x="1087" y="187" width="1" height="31"/><rect x="1085" y="202" width="5" height="12"/><rect x="1095" y="194" width="1" height="23"/><rect x="1093" y="198" width="5" height="16"/><rect x="1094" y="199" width="3" height="14" fill="#fff"/><rect x="1103" y="192" width="1" height="11"/><rect x="1101" y="192" width="5" height="7"/><rect x="1102" y="193" width="3" height="5" fill="#fff"/><rect x="1111" y="184" width="1" height="11"/><rect x="1109" y="185" width="5" height="9"/><rect x="1110" y="186" width="3" height="7" fill="#fff"/><rect x="1119" y="184" width="1" height="11"/><rect x="1117" y="185" width="5" height="8"/><rect x="1127" y="184" width="1" height="11"/><rect x="1125" y="190" width="5" height="3"/><rect x="1126" y="191" width="3" height="1" fill="#fff"/><rect x="1135" y="184" width="1" height="14"/><rect x="1133" y="189" width="5" height="2"/><rect x="1143" y="181" width="1" height="10"/><rect x="1141" y="182" width="5" height="8"/><rect x="1142" y="183" width="3" height="6" fill="#fff"/><rect x="1151" y="178" width="1" height="16"/><rect x="1149" y="182" width="5" height="10"/><rect x="1159" y="187" width="1" height="18"/><rect x="1157" y="191" width="5" height="6"/><rect x="1167" y="194" width="1" height="10"/><rect x="1165" y="196" width="5" height="7"/><rect x="1175" y="197" width="1" height="13"/><rect x="1173" y="200" width="5" height="3"/><rect x="1174" y="201" width="3" height="1" fill="#fff"/><rect x="1183" y="185" width="1" height="21"/><rect x="1181" y="187" width="5" height="14"/><rect x="1182" y="188" width="3" height="12" fill="#fff"/><rect x="1191" y="176" width="1" height="20"/><rect x="1189" y="181" width="5" height="7"/><rect x="1190" y="182" width="3" height="5" fill="#fff"/><rect x="1199" y="171" width="1" height="13"/><rect x="1197" y="178" width="5" height="4"/><rect x="1198" y="179" width="3" height="2" fill="#fff"/><rect x="1207" y="172" width="1" height="14"/><rect x="1205" y="176" width="5" height="6"/><rect x="1206" y="177" width="3" height="4" fill="#fff"/><rect x="1215" y="174" width="1" height="12"/><rect x="1213" y="178" width="5" height="2"/><rect x="1223" y="172" width="1" height="14"/><rect x="1221" y="177" width="5" height="4"/><rect x="1222" y="178" width="3" height="2" fill="#fff"/><rect x="1231" y="176" width="1" height="20"/><rect x="1229" y="178" width="5" height="4"/><rect x="1239" y="176" width="1" height="14"/><rect x="1237" y="179" width="5" height="3"/><rect x="1238" y="180" width="3" height="1" fill="#fff"/><rect x="1247" y="173" width="1" height="13"/><rect x="1245" y="177" width="5" height="4"/><rect x="1255" y="176" width="1" height="11"/><rect x="1253" y="178" width="5" height="6"/><rect x="1263" y="182" width="1" height="17"/><rect x="1261" y="184" width="5" height="12"/><rect x="1271" y="194" width="1" height="6"/><rect x="1269" y="195" width="5" height="3"/><rect x="1279" y="192" width="1" height="12"/><rect x="1277" y="196" width="5" height="2"/><rect x="1287" y="180" width="1" height="20"/><rect x="1285" y="181" width="5" height="17"/><rect x="1286" y="182" width="3" height="15" fill="#fff"/><rect x="1295" y="176" width="1" height="16"/><rect x="1293" y="178" width="5" height="3"/><rect x="1294" y="179" width="3" height="1" fill="#fff"/><rect x="1303" y="175" width="1" height="14"/><rect x="1301" y="177" width="5" height="2"/><rect x="1311" y="167" width="1" height="11"/><rect x="1309" y="169" width="5" height="8"/><rect x="1310" y="170" width="3" height="6" fill="#fff"/><rect x="1319" y="164" width="1" height="9"/><rect x="1317" y="168" width="5" height="4"/><rect x="1327" y="167" width="1" height="13"/><rect x="1325" y="171" width="5" height="7"/><rect x="1335" y="170" width="1" height="20"/><rect x="1333" y="174" width="5" height="9"/><rect x="1334" y="175" width="3" height="7" fill="#fff"/><rect x="1343" y="163" width="1" height="21"/><rect x="1341" y="174" width="5" height="1"/><rect x="1351" y="165" width="1" height="11"/><rect x="1349" y="172" width="5" height="3"/><rect x="1350" y="173" width="3" height="1" fill="#fff"/></g><rect x="-1" y="140" width="5" height="5" fill="#ff4500"/><rect x="0" y="141" width="3" height="3" fill="#fff"/><rect x="1580" y="140" width="5" height="5" fill="#ff4500"/><rect x="1581" y="141" width="3" height="3" fill="#fff"/><rect x="-1" y="155" width="5" height="5" fill="#ff4500"/><rect x="0" y="156" width="3" height="3" fill="#fff"/><rect x="1580" y="155" width="5" height="5" fill="#ff4500"/><rect x="1581" y="156" width="3" height="3" fill="#fff"/><rect x="-1" y="182" width="5" height="5" fill="#32cd32"/><rect x="0" y="183" width="3" height="3" fill="#fff"/><rect x="1580" y="182" width="5" height="5" fill="#32cd32"/><rect x="1581" y="183" width="3" height="3" fill="#fff"/><rect x="-1" y="196" width="5" height="5" fill="#0000ff"/><rect x="0" y="197" width="3" height="3" fill="#fff"/><rect x="1580" y="196" width="5" height="5" fill="#0000ff"/><rect x="1581" y="197" width="3" height="3" fill="#fff"/><rect x="-1" y="207" width="5" height="5" fill="#0000ff"/><rect x="0" y="208" width="3" height="3" fill="#fff"/><rect x="1580" y="207" width="5" height="5" fill="#0000ff"/><rect x="1581" y="208" width="3" height="3" fill="#fff"/><rect x="1204" y="175" width="127" height="13" fill="#00ff00"/><rect x="1585" y="30" width="1" height="726" fill="#000"/><rect x="0" y="450" width="1586" height="1" fill="#000"/><rect x="0" y="452" width="1586" height="1" fill="#000"/><rect x="0" y="603" width="1586" height="1" fill="#000"/><rect x="0" y="605" width="1586" height="1" fill="#000"/><rect x="0" y="451" width="1585" height="1" fill="#fff"/><rect x="0" y="604" width="1585" height="1" fill="#fff"/><rect x="0" y="755" width="1586" height="1" fill="#000"/><rect x="1586" y="51" width="2" height="1" fill="#000"/><rect x="1586" y="84" width="2" height="1" fill="#000"/><rect x="1586" y="117" width="2" height="1" fill="#000"/><rect x="1586" y="150" width="2" height="1" fill="#000"/><rect x="1586" y="183" width="2" height="1" fill="#000"/><rect x="1586" y="216" width="2" height="1" fill="#000"/><rect x="1586" y="249" width="2" height="1" fill="#000"/><rect x="1586" y="282" width="2" height="1" fill="#000"/><rect x="1586" y="315" width="2" height="1" fill="#000"/><rect x="1586" y="348" width="2" height="1" fill="#000"/><rect x="1586" y="381" width="2" height="1" fill="#000"/><rect x="1586" y="414" width="2" height="1" fill="#000"/><rect x="1586" y="447" width="2" height="1" fill="#000"/><rect x="1586" y="455" width="2" height="1" fill="#000"/><rect x="1586" y="498" width="2" height="1" fill="#000"/><rect x="1586" y="601" width="2" height="1" fill="#000"/><rect x="1586" y="607" width="2" height="1" fill="#000"/><rect x="-1" y="756" width="1" height="4" fill="#000"/><rect x="63" y="756" width="1" height="4" fill="#000"/><rect x="127" y="756" width="1" height="4" fill="#000"/><rect x="191" y="756" width="1" height="4" fill="#000"/><rect x="255" y="756" width="1" height="4" fill="#000"/><rect x="319" y="756" width="1" height="4" fill="#000"/><rect x="383" y="756" width="1" height="4" fill="#000"/><rect x="447" y="756" width="1" height="4" fill="#000"/><rect x="511" y="756" width="1" height="4" fill="#000"/><rect x="575" y="756" width="1" height="4" fill="#000"/><rect x="639" y="756" width="1" height="4" fill="#000"/><rect x="703" y="756" width="1" height="4" fill="#000"/><rect x="767" y="756" width="1" height="4" fill="#000"/><rect x="831" y="756" width="1" height="4" fill="#000"/><rect x="895" y="756" width="1" height="4" fill="#000"/><rect x="959" y="756" width="1" height="4" fill="#000"/><rect x="1023" y="756" width="1" height="4" fill="#000"/><rect x="1087" y="756" width="1" height="4" fill="#000"/><rect x="1151" y="756" width="1" height="4" fill="#000"/><rect x="1215" y="756" width="1" height="4" fill="#000"/><rect x="1279" y="756" width="1" height="4" fill="#000"/><rect x="1343" y="756" width="1" height="4" fill="#000"/><g fill="#c0c0c0"><rect x="7" y="498" width="1" height="21"/><rect x="15" y="498" width="1" height="25"/><rect x="23" y="498" width="1" height="32"/><rect x="31" y="498" width="1" height="39"/><rect x="39" y="498" width="1" height="40"/><rect x="47" y="498" width="1" height="37"/><rect x="55" y="498" width="1" height="35"/><rect x="63" y="498" width="1" height="35"/><rect x="71" y="498" width="1" height="34"/><rect x="79" y="498" width="1" height="34"/><rect x="87" y="498" width="1" height="38"/><rect x="95" y="498" width="1" height="42"/><rect x="103" y="498" width="1" height="47"/><rect x="111" y="498" width="1" height="50"/><rect x="119" y="498" width="1" height="50"/><rect x="127" y="498" width="1" height="49"/><rect x="135" y="498" width="1" height="52"/><rect x="143" y="498" width="1" height="50"/><rect x="151" y="498" width="1" height="46"/><rect x="159" y="498" width="1" height="43"/><rect x="167" y="498" width="1" height="40"/><rect x="175" y="498" width="1" height="33"/><rect x="183" y="498" width="1" height="29"/><rect x="191" y="498" width="1" height="27"/><rect x="199" y="498" width="1" height="26"/><rect x="207" y="498" width="1" height="23"/><rect x="215" y="498" width="1" height="21"/><rect x="223" y="498" width="1" height="18"/><rect x="231" y="498" width="1" height="13"/><rect x="239" y="498" width="1" height="10"/><rect x="247" y="498" width="1" height="8"/><rect x="255" y="498" width="1" height="6"/><rect x="263" y="498" width="1" height="4"/><rect x="271" y="498" width="1" height="5"/><rect x="279" y="498" width="1" height="4"/><rect x="287" y="498" width="1" height="4"/><rect x="295" y="498" width="1" height="4"/><rect x="303" y="498" width="1" height="6"/><rect x="311" y="498" width="1" height="8"/><rect x="319" y="498" width="1" height="10"/><rect x="327" y="498" width="1" height="12"/><rect x="335" y="498" width="1" height="17"/><rect x="343" y="498" width="1" height="21"/><rect x="351" y="498" width="1" height="23"/><rect x="359" y="498" width="1" height="24"/><rect x="367" y="498" width="1" height="25"/><rect x="375" y="498" width="1" height="27"/><rect x="383" y="498" width="1" height="29"/><rect x="391" y="498" width="1" height="35"/><rect x="399" y="498" width="1" height="38"/><rect x="407" y="498" width="1" height="41"/><rect x="415" y="498" width="1" height="42"/><rect x="423" y="498" width="1" height="43"/><rect x="431" y="498" width="1" height="42"/><rect x="439" y="498" width="1" height="44"/><rect x="447" y="498" width="1" height="44"/><rect x="455" y="498" width="1" height="43"/><rect x="463" y="498" width="1" height="41"/><rect x="471" y="498" width="1" height="38"/><rect x="479" y="498" width="1" height="33"/><rect x="487" y="498" width="1" height="37"/><rect x="495" y="498" width="1" height="40"/><rect x="503" y="498" width="1" height="44"/><rect x="511" y="498" width="1" height="48"/><rect x="519" y="498" width="1" height="48"/><rect x="527" y="498" width="1" height="50"/><rect x="535" y="498" width="1" height="55"/><rect x="543" y="498" width="1" height="57"/><rect x="551" y="498" width="1" height="58"/><rect x="559" y="498" width="1" height="58"/><rect x="567" y="498" width="1" height="59"/><rect x="575" y="498" width="1" height="57"/><rect x="583" y="498" width="1" height="61"/><rect x="591" y="498" width="1" height="68"/><rect x="599" y="498" width="1" height="72"/><rect x="607" y="498" width="1" height="72"/><rect x="615" y="498" width="1" height="72"/><rect x="623" y="498" width="1" height="72"/><rect x="631" y="498" width="1" height="75"/><rect x="639" y="498" width="1" height="84"/><rect x="647" y="498" width="1" height="91"/><rect x="655" y="498" width="1" height="96"/><rect x="663" y="498" width="1" height="98"/><rect x="671" y="498" width="1" height="96"/><rect x="679" y="498" width="1" height="96"/><rect x="687" y="498" width="1" height="83"/><rect x="695" y="498" width="1" height="65"/><rect x="703" y="498" width="1" height="51"/><rect x="711" y="498" width="1" height="40"/><rect x="719" y="498" width="1" height="35"/><rect x="727" y="498" width="1" height="32"/><rect x="735" y="498" width="1" height="28"/><rect x="743" y="498" width="1" height="16"/><rect x="751" y="498" width="1" height="5"/><rect x="759" y="496" width="1" height="3"/><rect x="767" y="487" width="1" height="12"/><rect x="775" y="484" width="1" height="15"/><rect x="783" y="477" width="1" height="22"/><rect x="791" y="476" width="1" height="23"/><rect x="799" y="474" width="1" height="25"/><rect x="807" y="472" width="1" height="27"/><rect x="815" y="470" width="1" height="29"/><rect x="823" y="469" width="1" height="30"/><rect x="831" y="470" width="1" height="29"/><rect x="839" y="470" width="1" height="29"/><rect x="847" y="469" width="1" height="30"/><rect x="855" y="467" width="1" height="32"/><rect x="863" y="469" width="1" height="30"/><rect x="871" y="475" width="1" height="24"/><rect x="879" y="480" width="1" height="19"/><rect x="887" y="480" width="1" height="19"/><rect x="895" y="480" width="1" height="19"/><rect x="903" y="484" width="1" height="15"/><rect x="911" y="487" width="1" height="12"/><rect x="919" y="489" width="1" height="10"/><rect x="927" y="492" width="1" height="7"/><rect x="935" y="497" width="1" height="2"/><rect x="943" y="498" width="1" height="3"/><rect x="951" y="498" width="1" height="8"/><rect x="959" y="498" width="1" height="10"/><rect x="967" y="498" width="1" height="10"/><rect x="975" y="498" width="1" height="8"/><rect x="983" y="498" width="1" height="1"/><rect x="991" y="494" width="1" height="5"/><rect x="999" y="488" width="1" height="11"/><rect x="1007" y="483" width="1" height="16"/><rect x="1015" y="478" width="1" height="21"/><rect x="1023" y="475" width="1" height="24"/><rect x="1031" y="475" width="1" height="24"/><rect x="1039" y="473" width="1" height="26"/><rect x="1047" y="472" width="1" height="27"/><rect x="1055" y="471" width="1" height="28"/><rect x="1063" y="469" width="1" height="30"/><rect x="1071" y="469" width="1" height="30"/><rect x="1079" y="467" width="1" height="32"/><rect x="1087" y="467" width="1" height="32"/><rect x="1095" y="466" width="1" height="33"/><rect x="1103" y="464" width="1" height="35"/><rect x="1111" y="462" width="1" height="37"/><rect x="1119" y="461" width="1" height="38"/><rect x="1127" y="461" width="1" height="38"/><rect x="1135" y="462" width="1" height="37"/><rect x="1143" y="461" width="1" height="38"/><rect x="1151" y="462" width="1" height="37"/><rect x="1159" y="465" width="1" height="34"/><rect x="1167" y="468" width="1" height="31"/><rect x="1175" y="471" width="1" height="28"/><rect x="1183" y="471" width="1" height="28"/><rect x="1191" y="471" width="1" height="28"/><rect x="1199" y="470" width="1" height="29"/><rect x="1207" y="470" width="1" height="29"/><rect x="1215" y="470" width="1" height="29"/><rect x="1223" y="471" width="1" height="28"/><rect x="1231" y="473" width="1" height="26"/><rect x="1239" y="474" width="1" height="25"/><rect x="1247" y="474" width="1" height="25"/><rect x="1255" y="477" width="1" height="22"/><rect x="1263" y="480" width="1" height="19"/><rect x="1271" y="483" width="1" height="16"/><rect x="1279" y="486" width="1" height="13"/><rect x="1287" y="486" width="1" height="13"/><rect x="1295" y="486" width="1" height="13"/><rect x="1303" y="486" width="1" height="13"/><rect x="1311" y="484" width="1" height="15"/><rect x="1319" y="483" width="1" height="16"/><rect x="1327" y="484" width="1" height="15"/><rect x="1335" y="485" width="1" height="14"/><rect x="1343" y="484" width="1" height="15"/><rect x="1351" y="485" width="1" height="14"/></g><polyline points="0.0,487.0 8.0,495.0 16.0,502.0 24.0,507.0 32.0,513.0 40.0,519.0 48.0,522.4 56.0,526.4 64.0,530.0 72.0,531.6 80.0,533.4 88.0,534.6 96.0,535.6 104.0,536.6 112.0,538.4 120.0,539.6 128.0,540.6 136.0,542.0 144.0,544.6 152.0,545.0 160.0,546.4 168.0,545.4 176.0,544.4 184.0,542.0 192.0,539.4 200.0,537.0 208.0,533.0 216.0,530.0 224.0,527.0 232.0,523.4 240.0,520.0 248.0,517.0 256.0,514.6 264.0,511.6 272.0,510.0 280.0,507.6 288.0,506.4 296.0,504.6 304.0,504.4 312.0,503.6 320.0,504.4 328.0,505.0 336.0,506.4 344.0,508.6 352.0,510.0 360.0,512.4 368.0,514.6 376.0,517.4 384.0,520.0 392.0,523.0 400.0,525.4 408.0,528.0 416.0,531.0 424.0,532.0 432.0,534.4 440.0,537.0 448.0,538.0 456.0,539.4 464.0,540.4 472.0,540.4 480.0,539.4 488.0,539.4 496.0,538.4 504.0,539.4 512.0,539.4 520.0,539.4 528.0,540.0 536.0,543.0 544.0,544.6 552.0,547.4 560.0,549.6 568.0,551.0 576.0,553.4 584.0,554.6 592.0,556.0 600.0,559.0 608.0,561.4 616.0,562.6 624.0,564.4 632.0,566.4 640.0,569.4 648.0,572.6 656.0,576.0 664.0,579.6 672.0,582.4 680.0,585.4 688.0,586.4 696.0,585.0 704.0,582.4 712.0,578.0 720.0,571.0 728.0,564.0 736.0,557.0 744.0,549.0 752.0,539.0 760.0,527.0 768.0,518.0 776.0,511.0 784.0,505.0 792.0,499.0 800.0,492.6 808.0,486.0 816.0,480.6 824.0,477.4 832.0,475.0 840.0,473.6 848.0,471.0 856.0,470.4 864.0,469.6 872.0,469.6 880.0,470.4 888.0,471.4 896.0,472.6 904.0,474.0 912.0,476.4 920.0,478.6 928.0,482.0 936.0,484.0 944.0,487.6 952.0,490.6 960.0,493.4 968.0,496.4 976.0,499.0 984.0,500.0 992.0,501.0 1000.0,500.4 1008.0,499.4 1016.0,495.6 1024.0,493.0 1032.0,489.0 1040.0,485.0 1048.0,481.6 1056.0,478.0 1064.0,475.0 1072.0,472.4 1080.0,471.4 1088.0,470.4 1096.0,469.4 1104.0,468.0 1112.0,466.0 1120.0,465.4 1128.0,464.4 1136.0,463.4 1144.0,462.4 1152.0,462.4 1160.0,462.4 1168.0,462.4 1176.0,463.4 1184.0,464.4 1192.0,465.6 1200.0,466.4 1208.0,467.4 1216.0,468.4 1224.0,469.4 1232.0,469.4 1240.0,470.4 1248.0,471.4 1256.0,471.4 1264.0,472.6 1272.0,474.4 1280.0,476.4 1288.0,477.0 1296.0,479.4 1304.0,480.4 1312.0,481.4 1320.0,482.4 1328.0,483.4 1336.0,484.4 1344.0,484.4 1351.4,484.4" fill="none" stroke="#ff0000" stroke-width="1" stroke-dasharray="3 3" shape-rendering="crispEdges"/><line x1="0" y1="636.5" x2="1585" y2="636.5" stroke="#c0c0c0" stroke-width="1" stroke-dasharray="3 3"/><line x1="0" y1="680.5" x2="1585" y2="680.5" stroke="#c0c0c0" stroke-width="1" stroke-dasharray="3 3"/><line x1="0" y1="732.5" x2="1585" y2="732.5" stroke="#c0c0c0" stroke-width="1" stroke-dasharray="3 3"/><polyline points="-1,708.0 7,712.4 15,705.6 23,711.4 31,716.4 39,702.0 47,688.4 55,692.0 63,696.6 71,693.4 79,693.4 87,707.4 95,703.4 103,709.6 111,706.4 119,701.4 127,699.4 135,708.4 143,694.4 151,690.4 159,692.4 167,689.4 175,679.4 183,683.4 191,687.4 199,690.4 207,683.4 215,686.4 223,682.0 231,674.4 239,678.4 247,680.0 255,678.0 263,676.4 271,686.0 279,681.4 287,683.4 295,682.4 303,689.4 311,691.4 319,692.4 327,695.4 335,703.4 343,704.4 351,701.4 359,698.4 367,701.6 375,703.0 383,707.0 391,718.4 399,711.4 407,712.4 415,712.4 423,710.0 431,706.4 439,715.4 447,707.0 455,702.4 463,701.4 471,695.4 479,687.4 487,708.0 495,710.4 503,713.4 511,715.4 519,703.4 527,708.0 535,716.4 543,711.6 551,711.6 559,710.4 567,712.4 575,706.0 583,717.0 591,721.4 599,719.4 607,713.6 615,713.4 623,714.4 631,721.4 639,729.4 647,728.4 655,729.6 663,725.0 671,717.4 679,719.4 687,684.4 695,673.4 703,673.4 711,676.4 719,683.4 727,686.4 735,683.4 743,667.4 751,664.4 759,667.4 767,663.4 775,671.4 783,664.4 791,674.4 799,671.4 807,670.0 815,668.4 823,669.4 831,671.4 839,670.4 847,667.4 855,665.4 863,675.0 871,681.4 879,684.4 887,674.4 895,672.4 903,683.4 911,681.4 919,682.4 927,683.4 935,691.4 943,693.4 951,695.4 959,691.0 967,684.4 975,680.4 983,666.4 991,664.4 999,663.4 1007,660.4 1015,659.4 1023,660.4 1031,666.4 1039,663.4 1047,663.4 1055,661.4 1063,658.4 1071,662.4 1079,655.4 1087,663.4 1095,657.4 1103,655.4 1111,652.4 1119,658.4 1127,657.4 1135,656.4 1143,653.0 1151,661.4 1159,665.4 1167,670.4 1175,669.4 1183,662.4 1191,659.0 1199,657.4 1207,657.4 1215,656.4 1223,659.4 1231,664.4 1239,663.0 1247,659.0 1255,671.4 1263,679.0 1271,681.4 1279,680.4 1287,669.4 1295,666.4 1303,670.4 1311,660.4 1319,663.4 1327,673.4 1335,668.4 1343,668.4 1351,667.4" fill="none" stroke="#1e90ff" stroke-width="1" shape-rendering="crispEdges"/><polygon points="1357,31 1367,31 1362,36" fill="#c0c0c0" shape-rendering="auto"/></svg>
<div class="ax" style="top:46px">25128.0</div><div class="ax" style="top:79px">24822.0</div><div class="ax" style="top:112px">24507.0</div><div class="ax" style="top:145px">24192.0</div><div class="ax" style="top:178px">23877.0</div><div class="ax" style="top:211px">23571.0</div><div class="ax" style="top:244px">23256.0</div><div class="ax" style="top:277px">22941.0</div><div class="ax" style="top:310px">22635.0</div><div class="ax" style="top:343px">22320.0</div><div class="ax" style="top:376px">22005.0</div><div class="ax" style="top:409px">21690.0</div><div class="ax" style="top:442px">21384.0</div><div class="ax" style="top:454px;left:1589px">225.63</div><div class="ax" style="top:493px;left:1589px">0.00</div><div class="ax" style="top:592px;left:1589px">-527.68</div><div class="ax" style="top:607px;left:1589px">100</div><div class="ax" style="top:631px;left:1589px">80</div><div class="ax" style="top:675px;left:1589px">50</div><div class="ax" style="top:727px;left:1589px">15</div><div class="ax" style="top:743px;left:1589px">0</div><div class="tag" style="top:136px;background:#ff4500"><span>24266.2</span></div><div class="tag" style="top:151px;background:#ff4500"><span>24125.5</span></div><div class="tag" style="top:167px;background:#000"><span>23984.0</span></div><div class="tag" style="top:178px;background:#32cd32"><span>23870.4</span></div><div class="tag" style="top:192px;background:#0000ff"><span>23738.1</span></div><div class="tag" style="top:203px;background:#0000ff"><span>23634.1</span></div><div class="tm" style="left:-1px">5 Dec 2018</div><div class="tm" style="left:63px">7 Dec 04:00</div><div class="tm" style="left:127px">10 Dec 08:00</div><div class="tm" style="left:191px">11 Dec 16:00</div><div class="tm" style="left:255px">13 Dec 00:00</div><div class="tm" style="left:319px">14 Dec 08:00</div><div class="tm" style="left:383px">17 Dec 12:00</div><div class="tm" style="left:447px">18 Dec 20:00</div><div class="tm" style="left:511px">20 Dec 04:00</div><div class="tm" style="left:575px">21 Dec 12:00</div><div class="tm" style="left:639px">24 Dec 16:00</div><div class="tm" style="left:703px">27 Dec 00:00</div><div class="tm" style="left:767px">28 Dec 08:00</div><div class="tm" style="left:831px">31 Dec 12:00</div><div class="tm" style="left:895px">2 Jan 16:00</div><div class="tm" style="left:959px">4 Jan 00:00</div><div class="tm" style="left:1023px">7 Jan 04:00</div><div class="tm" style="left:1087px">8 Jan 12:00</div><div class="tm" style="left:1151px">9 Jan 20:00</div><div class="tm" style="left:1215px">11 Jan 04:00</div><div class="tm" style="left:1279px">14 Jan 08:00</div><div class="tm" style="left:1343px">15 Jan 16:00</div><div class="ct" style="left:14px;top:33px"><span style="letter-spacing:.15px"><span class="nw">DJ</span>30-,<span class="nw">H</span>4</span>&nbsp; <span style="letter-spacing:-.1px">23967.0 24051.0 23956.0 23984.0</span></div><div class="tri"></div><div class="ct" style="left:3px;top:456px"><span class="nw">MACD</span>(12,26,9) 72.93 71.91</div><div class="ct" style="left:3px;top:609px"><span class="nw">RSI</span>(14) 59.4036</div><div class="gt">多空转折点<span>23870</span></div>

<div class="panel">
 <div class="pbg"></div>
 <div class="sell btn">SELL</div>
 <div class="buy btn">BUY</div>
 <div class="vol"><div class="vb l"><i class="dn"></i></div><div class="vi">0.10</div><div class="vb rr"><i class="up"></i></div></div>
 <div class="pb pl"><span class="sm">23982</span><span class="dot">.</span><span class="bg">5</span></div>
 <div class="pb pr"><span class="sm">23997</span><span class="dot">.</span><span class="bg">5</span></div>
 <div class="ul" style="left:6px"></div><div class="ul" style="left:173px"></div>
</div>

</div>
</body></html>
